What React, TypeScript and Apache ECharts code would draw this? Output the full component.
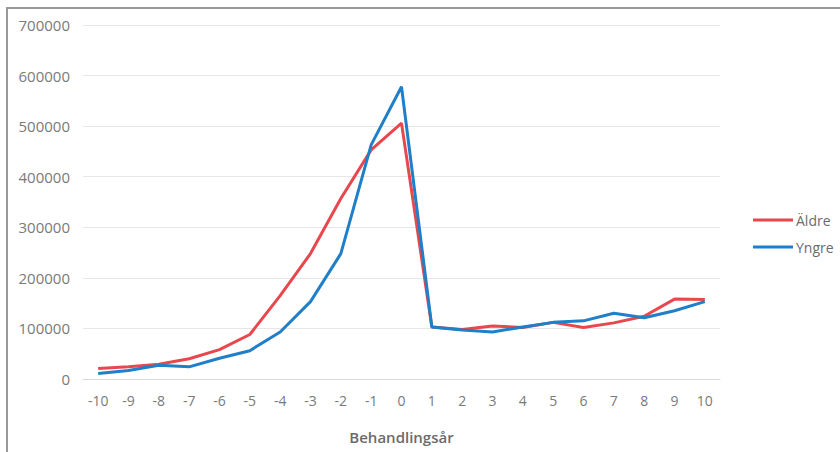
import React, { useEffect, useRef } from "react";
import * as echarts from "echarts";

const categories = ["-10", "-9", "-8", "-7", "-6", "-5", "-4", "-3", "-2", "-1", "0", "1", "2", "3", "4", "5", "6", "7", "8", "9", "10"];
const aldre = [21000, 24000, 29000, 40000, 58000, 88000, 165000, 248000, 357000, 453000, 506000, 103000, 98000, 105000, 102000, 112000, 102000, 111000, 124000, 158000, 157000];
const yngre = [11000, 17000, 27000, 24000, 41000, 56000, 93000, 153000, 248000, 463000, 578000, 103000, 97000, 93000, 103000, 112000, 115000, 130000, 121000, 135000, 153000];
const yTicks = [0, 100000, 200000, 300000, 400000, 500000, 600000, 700000];

export default function App() {
  const ref = useRef<HTMLDivElement>(null);
  useEffect(() => {
    if (!ref.current) return;
    const chart = echarts.init(ref.current, null, { renderer: "svg" });
    const font = "'Open Sans', 'Noto Sans', sans-serif";
    chart.setOption({
      animation: false,
      backgroundColor: "#ffffff",
      textStyle: { fontFamily: font },
      grid: { left: 83, right: 120, top: 25, bottom: 73, containLabel: false },
      legend: {
        orient: "vertical",
        left: 748,
        top: 208,
        itemWidth: 40,
        itemHeight: 3,
        itemGap: 13,
        icon: "rect",
        textStyle: { color: "#6b6b6b", fontSize: 14, fontFamily: font, padding: [0, 0, 0, -2] },
        data: ["Äldre", "Yngre"],
      },
      xAxis: {
        type: "category",
        data: categories,
        boundaryGap: true,
        name: "Behandlingsår",
        nameLocation: "middle",
        nameGap: 50,
        nameTextStyle: { color: "#6b6b6b", fontSize: 15, fontWeight: 600, fontFamily: font },
        axisLine: { lineStyle: { color: "#d9d9d9", width: 1 } },
        axisTick: { show: false },
        axisLabel: { color: "#7a7a7a", fontSize: 14, margin: 14, fontFamily: font },
      },
      yAxis: {
        type: "value",
        min: 0,
        max: 700000,
        interval: 100000,
        axisLine: { show: false },
        axisTick: { show: false },
        axisLabel: {
          color: "#7a7a7a",
          fontSize: 15,
          margin: 13,
          fontFamily: font,
          customValues: yTicks,
          formatter: (v: number) => String(v),
        },
        splitLine: { lineStyle: { color: "#e6e6e6", width: 1 } },
      },
      series: [
        {
          name: "Äldre",
          type: "line",
          data: aldre,
          symbol: "none",
          lineStyle: { color: "#e8484d", width: 3 },
          itemStyle: { color: "#e8484d" },
        },
        {
          name: "Yngre",
          type: "line",
          data: yngre,
          symbol: "none",
          lineStyle: { color: "#1f7fc8", width: 3 },
          itemStyle: { color: "#1f7fc8" },
        },
      ],
      graphic: [
        {
          type: "rect",
          shape: { x: 7, y: 8, width: 900, height: 500 },
          style: { fill: "none", stroke: "#9a9a9a", lineWidth: 2 },
          silent: true,
        },
      ],
    });
    return () => chart.dispose();
  }, []);
  return (
    <div
      ref={ref}
      style={{ position: "fixed", left: 0, top: 0, width: 840, height: 452 }}
    />
  );
}
